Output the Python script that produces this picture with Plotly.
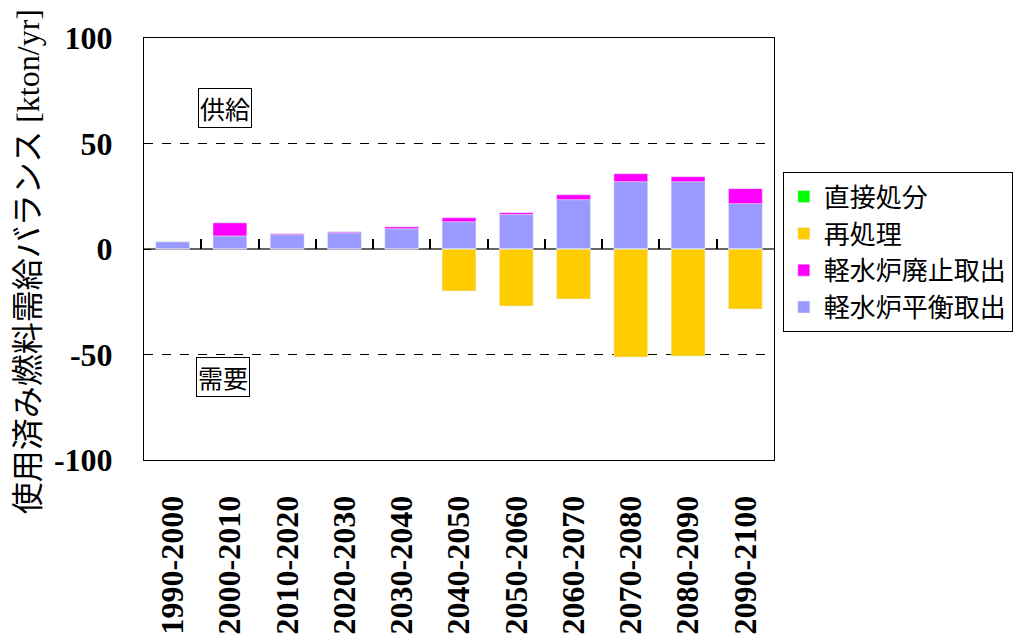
import plotly.graph_objects as go

categories = ["1990-2000", "2000-2010", "2010-2020", "2020-2030", "2030-2040",
              "2040-2050", "2050-2060", "2060-2070", "2070-2080", "2080-2090", "2090-2100"]
direct_disposal = [0, 0, 0, 0, 0, 0, 0, 0, 0, 0, 0]
reprocessing = [0, 0, 0, 0, 0, -19.9, -27.0, -23.7, -51.2, -50.7, -28.4]
lwr_decommission = [0, 6.3, 0.5, 0.5, 1.0, 1.9, 0.9, 2.3, 3.8, 2.4, 7.1]
lwr_equilibrium = [3.5, 6.2, 6.8, 7.7, 9.6, 12.9, 16.3, 23.4, 31.9, 31.9, 21.5]

y_tickvals = [-100, -50, 0, 50, 100]
y_ticktext = ["-100", "-50", "0", "50", "100"]

names = ["直接処分", "再処理", "軽水炉廃止取出", "軽水炉平衡取出"]
colors = ["#00FF00", "#FFCC00", "#FF00FF", "#9999FF"]
y_title = "使用済み燃料需給バランス [kton/yr]"

serif = "Liberation Serif"
cjk = "Noto Sans CJK JP"

fig = go.Figure()
fig.add_trace(go.Bar(x=categories, y=lwr_equilibrium, name=names[3], marker_color=colors[3]))
fig.add_trace(go.Bar(x=categories, y=lwr_decommission, name=names[2], marker_color=colors[2]))
fig.add_trace(go.Bar(x=categories, y=reprocessing, name=names[1], marker_color=colors[1]))
fig.add_trace(go.Bar(x=categories, y=direct_disposal, name=names[0], marker_color=colors[0],
                     xaxis="x2"))

fig.update_layout(
    width=1017, height=635,
    margin=dict(l=144, r=243, t=38, b=175, autoexpand=False),
    barmode="relative", bargap=0.41,
    plot_bgcolor="white", paper_bgcolor="white",
    showlegend=True,
    legend=dict(traceorder="reversed", x=1.014, y=0.682, xanchor="left", yanchor="top",
                bordercolor="black", borderwidth=1, bgcolor="white",
                font=dict(family=cjk, size=26, color="black"),
                itemwidth=30, tracegroupgap=0),
    xaxis=dict(type="category", categoryarray=categories, range=[-0.5, 10.5],
               showline=True, linecolor="black", linewidth=1, mirror=True,
               ticks="", tickangle=-90, ticklabelstandoff=22,
               tickfont=dict(family=serif, size=32, color="black", weight="bold"),
               showgrid=False, automargin=False),
    xaxis2=dict(type="category", categoryarray=categories, range=[-0.5, 10.5],
                overlaying="x", anchor="free", position=0.5, side="bottom",
                showticklabels=False, showline=False, showgrid=False,
                ticks="inside", tickson="boundaries", ticklen=10, tickwidth=1.5,
                tickcolor="black"),
    yaxis=dict(range=[-100, 100], tickvals=y_tickvals, ticktext=y_ticktext,
               showline=True, linecolor="black",
               linewidth=1, mirror=True, ticks="inside", ticklen=7, tickcolor="black",
               ticklabelstandoff=24,
               tickfont=dict(family=serif, size=32, color="black", weight="bold"),
               showgrid=True, gridcolor="black", griddash="dash", gridwidth=1,
               zeroline=True, zerolinecolor="#666666", zerolinewidth=2,
               automargin=False),
)

fig.add_annotation(text=y_title, xref="paper", yref="paper", x=-0.184, y=0.469,
                   xanchor="center", yanchor="middle", textangle=-90,
                   showarrow=False, font=dict(family=serif + ", " + cjk, size=32, color="black"))
fig.add_annotation(text="供給", xref="paper", yref="paper", x=0.129, y=0.833,
                   xanchor="center", yanchor="middle",
                   showarrow=False, font=dict(family=cjk, size=25, color="black"),
                   bgcolor="white", bordercolor="black", borderwidth=1, borderpad=1)
fig.add_annotation(text="需要", xref="paper", yref="paper", x=0.126, y=0.197,
                   xanchor="center", yanchor="middle",
                   showarrow=False, font=dict(family=cjk, size=25, color="black"),
                   bgcolor="white", bordercolor="black", borderwidth=1, borderpad=1)

fig.write_html("out.html")
